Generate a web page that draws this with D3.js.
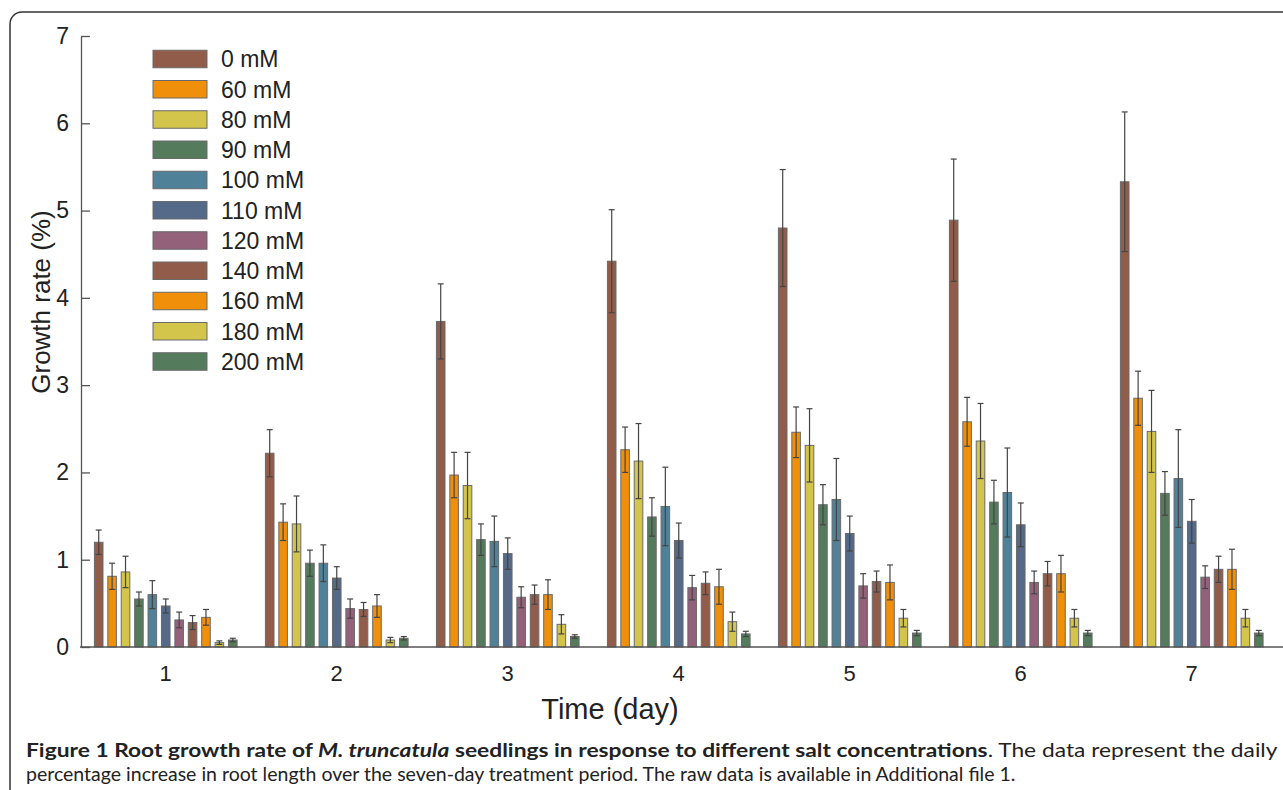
<!DOCTYPE html>
<html>
<head>
<meta charset="utf-8">
<script src="https://cdn.jsdelivr.net/npm/d3@7"></script>
<style>
  body { margin: 0; background: #fff; }
  svg { display: block; }
</style>
</head>
<body>
<script>
const w = 1283;
const h = 790;

// data
const days = [1, 2, 3, 4, 5, 6, 7];
const series = ["0 mM", "60 mM", "80 mM", "90 mM", "100 mM", "110 mM",
                "120 mM", "140 mM", "160 mM", "180 mM", "200 mM"];
const colors = ["#925c4a", "#f0900a", "#d3c54b", "#547b5c", "#4f8199", "#546a88",
                "#93617a", "#925c4a", "#f0900a", "#d3c54b", "#547b5c"];
// mean growth rate, one row per series, days 1..7
const means = [
  [1.20, 2.22, 3.73, 4.42, 4.80, 4.89, 5.33],
  [0.81, 1.43, 1.97, 2.26, 2.46, 2.58, 2.85],
  [0.86, 1.41, 1.85, 2.13, 2.31, 2.36, 2.47],
  [0.55, 0.96, 1.23, 1.49, 1.63, 1.66, 1.76],
  [0.60, 0.96, 1.21, 1.61, 1.69, 1.77, 1.93],
  [0.47, 0.79, 1.07, 1.22, 1.30, 1.40, 1.44],
  [0.31, 0.44, 0.57, 0.68, 0.70, 0.74, 0.80],
  [0.28, 0.43, 0.60, 0.73, 0.75, 0.84, 0.89],
  [0.34, 0.47, 0.60, 0.69, 0.74, 0.84, 0.89],
  [0.05, 0.08, 0.26, 0.29, 0.33, 0.33, 0.33],
  [0.08, 0.10, 0.12, 0.15, 0.16, 0.16, 0.16]
];
// error bar half-lengths
const errs = [
  [0.14, 0.27, 0.43, 0.59, 0.67, 0.70, 0.80],
  [0.15, 0.21, 0.26, 0.26, 0.29, 0.28, 0.31],
  [0.18, 0.32, 0.38, 0.43, 0.42, 0.43, 0.47],
  [0.08, 0.15, 0.18, 0.22, 0.23, 0.25, 0.25],
  [0.16, 0.21, 0.29, 0.45, 0.47, 0.51, 0.56],
  [0.08, 0.13, 0.18, 0.20, 0.20, 0.25, 0.25],
  [0.09, 0.11, 0.12, 0.14, 0.14, 0.13, 0.13],
  [0.08, 0.08, 0.11, 0.13, 0.12, 0.14, 0.15],
  [0.09, 0.13, 0.17, 0.20, 0.20, 0.21, 0.23],
  [0.02, 0.03, 0.11, 0.11, 0.10, 0.10, 0.10],
  [0.02, 0.02, 0.02, 0.03, 0.03, 0.03, 0.03]
];
const yTicks = [0, 1, 2, 3, 4, 5, 6, 7];

const font = "Liberation Sans, Arial, sans-serif";

const svg = d3.select("body")
              .append("svg")
              .attr("width", w)
              .attr("height", h);

// frame round the figure
svg.append("rect")
   .attr("x", 10).attr("y", 12)
   .attr("width", 1320).attr("height", 820)
   .attr("rx", 12).attr("ry", 12)
   .style("fill", "none")
   .style("stroke", "#333")
   .style("stroke-width", 1.5);

const x0 = d3.scaleBand().domain(days).range([80, 1277]);
const x1 = d3.scaleBand().domain(d3.range(series.length))
             .range([12, 159.5]).paddingInner(0.36).paddingOuter(0.18);
const y = d3.scaleLinear().domain([0, 7]).range([647, 36]);

// y axis, ticks pointing inward
const yAxis = svg.append("g")
   .attr("transform", "translate(81,0)")
   .call(d3.axisLeft(y).tickValues(yTicks).tickFormat(d3.format("d"))
           .tickSize(-9).tickSizeOuter(0).tickPadding(12));
yAxis.select(".domain").style("stroke", "#555").style("stroke-width", 1.3);
yAxis.selectAll(".tick line").style("stroke", "#555").style("stroke-width", 1.3);
yAxis.selectAll("text")
     .style("font-family", font)
     .style("font-size", "23px").style("fill", "#222");

// bars
const flat = [];
series.forEach((s, si) => days.forEach((d, di) => {
  flat.push({ s: si, day: d, v: means[si][di], e: errs[si][di] });
}));

svg.append("g").selectAll("rect")
   .data(flat)
   .enter()
   .append("rect")
   .attr("x", d => x0(d.day) + x1(d.s))
   .attr("y", d => y(d.v))
   .attr("width", x1.bandwidth())
   .attr("height", d => y(0) - y(d.v))
   .style("fill", d => colors[d.s])
   .style("stroke", "#6a6a6a")
   .style("stroke-width", 1);

// error bars
const eb = svg.append("g").selectAll("g")
   .data(flat)
   .enter()
   .append("g")
   .attr("transform", d => "translate(" + (x0(d.day) + x1(d.s) + x1.bandwidth() / 2) + ",0)");
eb.append("line")
  .attr("x1", 0).attr("x2", 0)
  .attr("y1", d => y(d.v + d.e)).attr("y2", d => y(d.v - d.e))
  .style("stroke", "#444").style("stroke-width", 1.2);
eb.append("line")
  .attr("x1", -3).attr("x2", 3)
  .attr("y1", d => y(d.v + d.e)).attr("y2", d => y(d.v + d.e))
  .style("stroke", "#444").style("stroke-width", 1.2);
eb.append("line")
  .attr("x1", -3).attr("x2", 3)
  .attr("y1", d => y(d.v - d.e)).attr("y2", d => y(d.v - d.e))
  .style("stroke", "#444").style("stroke-width", 1.2);

// x axis
svg.append("line")
   .attr("x1", 80).attr("x2", w)
   .attr("y1", y(0)).attr("y2", y(0))
   .style("stroke", "#555").style("stroke-width", 1.5);
const xAxis = svg.append("g")
   .attr("transform", "translate(0," + y(0) + ")")
   .call(d3.axisBottom(x0).tickSize(0).tickPadding(18));
xAxis.select(".domain").remove();
xAxis.selectAll("text")
     .style("font-family", font)
     .style("font-size", "22px").style("fill", "#222");

// axis titles
svg.append("text")
   .attr("x", 610).attr("y", 719)
   .attr("text-anchor", "middle")
   .style("font-family", font)
   .style("font-size", "29px").style("fill", "#222")
   .text("Time (day)");
svg.append("text")
   .attr("transform", "translate(50,302) rotate(-90)")
   .attr("text-anchor", "middle")
   .style("font-family", font)
   .style("font-size", "26px").style("fill", "#222")
   .text("Growth rate (%)");

// legend
const lg = svg.append("g").selectAll("g")
   .data(series)
   .enter()
   .append("g")
   .attr("transform", (d, i) => "translate(153," + (59 + i * 30.25) + ")");
lg.append("rect")
  .attr("x", 0).attr("y", -8.75)
  .attr("width", 54).attr("height", 17.5)
  .style("fill", (d, i) => colors[i])
  .style("stroke", "#6a6a6a").style("stroke-width", 1);
lg.append("text")
  .attr("x", 68).attr("y", 0).attr("dy", "0.36em")
  .style("font-family", font)
  .style("font-size", "23px").style("fill", "#222")
  .text(d => d);

// caption, two lines fitted to the widths in the figure
const capFont = "Lato, 'Open Sans', sans-serif";
const line1 = svg.append("g").attr("transform", "translate(26,757)");
const t1 = line1.append("text")
   .style("font-family", capFont).style("font-size", "19px").style("fill", "#222");
t1.append("tspan").style("font-weight", "bold").text("Figure 1 Root growth rate of ");
t1.append("tspan").style("font-weight", "bold").style("font-style", "italic").text("M. truncatula");
t1.append("tspan").style("font-weight", "bold").text(" seedlings in response to different salt concentrations");
t1.append("tspan").text(". The data represent the daily");

const line2 = svg.append("g").attr("transform", "translate(26,781)");
const t2 = line2.append("text")
   .style("font-family", capFont).style("font-size", "19px").style("fill", "#222")
   .text("percentage increase in root length over the seven-day treatment period. The raw data is available in Additional file 1.");

const l1 = t1.node().getComputedTextLength();
const l2 = t2.node().getComputedTextLength();
t1.attr("transform", "scale(" + (1252 / l1) + ",1)");
t2.attr("transform", "scale(" + (990 / l2) + ",1)");
</script>
</body>
</html>
